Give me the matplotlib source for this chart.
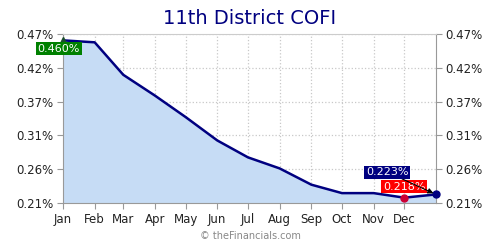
import numpy as np
import matplotlib
matplotlib.use("Agg")
import matplotlib.pyplot as plt
import matplotlib.dates as mdates

# data
dates = np.array(['2014-01-01', '2014-02-01', '2014-03-01', '2014-04-01', '2014-05-01',
                  '2014-06-01', '2014-07-01', '2014-08-01', '2014-09-01', '2014-10-01',
                  '2014-11-01', '2014-12-01', '2015-01-01'], dtype='datetime64[D]')
cofi = np.array([0.460, 0.457, 0.407, 0.375, 0.342, 0.306, 0.280, 0.263,
                 0.238, 0.225, 0.225, 0.218, 0.223])
tick_dates = dates[:12]
month_labels = ['Jan', 'Feb', 'Mar', 'Apr', 'May', 'Jun', 'Jul', 'Aug', 'Sep', 'Oct', 'Nov', 'Dec']
y_ticks = np.linspace(0.2098, 0.4698, 6)
y_labels = ['0.21%', '0.26%', '0.31%', '0.37%', '0.42%', '0.47%']

x = mdates.date2num(dates.astype('O'))
xt = mdates.date2num(tick_dates.astype('O'))

fig = plt.figure(figsize=(5, 2.5), dpi=100)
ax = fig.add_axes([0.126, 0.188, 0.746, 0.676])

navy = '#000080'
ax.fill_between(x, cofi, y_ticks[0], color='#c6dcf5', zorder=1)
ax.plot(x, cofi, color=navy, lw=1.8, zorder=3)

ax.set_xlim(x[0], x[-1])
ax.set_ylim(y_ticks[0], y_ticks[-1])
ax.set_xticks(xt)
ax.set_xticklabels(month_labels)
ax.set_yticks(y_ticks)
ax.set_yticklabels(y_labels)
ax.tick_params(axis='both', labelsize=8.5, colors='#999999', labelcolor='#222222',
               length=4, width=0.8, pad=3)
ax.tick_params(axis='y', right=True, labelright=True)
ax.grid(True, color='#c8c8c8', linestyle=':', lw=0.9, zorder=0)
ax.set_axisbelow(True)
for s in ['left', 'bottom', 'right']:
    ax.spines[s].set_color('#999999')
ax.spines['top'].set_color('#cccccc')

# markers and labels
ax.plot(x[0], cofi[0], marker='^', ms=4, color='#1a4d2e', zorder=4, clip_on=False)
ax.plot(x[11], cofi[11], 'o', ms=5, color='#cc0033', zorder=4)
ax.plot(x[-1], cofi[-1], 'o', ms=5, color=navy, zorder=4, clip_on=False)

ax.annotate('0.460%', xy=(x[0], cofi[0]), xytext=(-3, -6), textcoords='offset points',
            ha='center', va='center', color='white', fontsize=8,
            bbox=dict(boxstyle='square,pad=0.15', fc='#008000', ec='none'), zorder=5)
ax.annotate('0.218%', xy=(x[11], cofi[11]), xytext=(0, 8), textcoords='offset points',
            ha='center', va='center', color='white', fontsize=8,
            bbox=dict(boxstyle='square,pad=0.15', fc='#ff0000', ec='none'), zorder=5)
ax.annotate('0.223%', xy=(x[-1], cofi[-1]), xytext=(-35, 16), textcoords='offset points',
            ha='center', va='center', color='white', fontsize=8,
            bbox=dict(boxstyle='square,pad=0.15', fc=navy, ec='none'),
            arrowprops=dict(arrowstyle='-|>', color='black', lw=0.8, shrinkA=0, shrinkB=2),
            zorder=6)

fig.text(0.5, 0.925, '11th District COFI', ha='center', va='center', fontsize=14, color=navy)
fig.text(0.5, 0.055, '\u00a9 theFinancials.com', ha='center', va='center', fontsize=7,
         color='#888888')

fig.savefig('out.png', dpi=100)
